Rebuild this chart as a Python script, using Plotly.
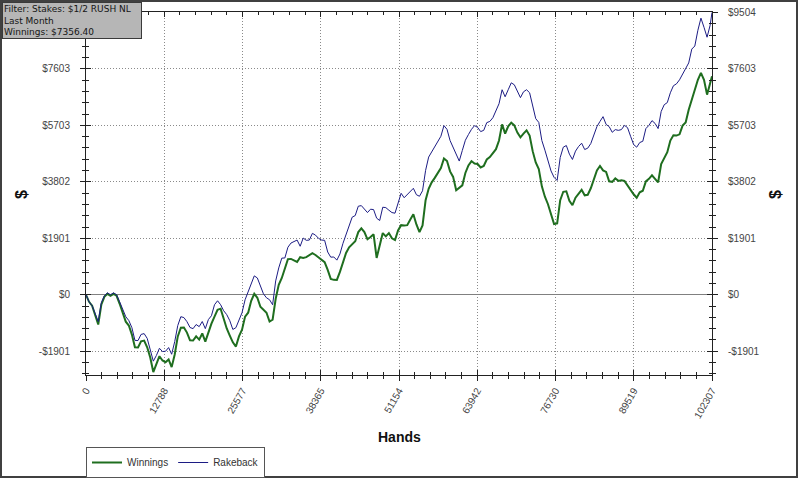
import plotly.graph_objects as go

# ---- data (every 500 hands) ----
hands = [0, 500, 1000, 1500, 2000, 2500, 3000, 3500, 4000, 4500,
         5000, 5500, 6000, 6500, 7000, 7500, 8000, 8500, 9000, 9500,
         10000, 10500, 11000, 11500, 12000, 12500, 13000, 13500, 14000, 14500,
         15000, 15500, 16000, 16500, 17000, 17500, 18000, 18500, 19000, 19500,
         20000, 20500, 21000, 21500, 22000, 22500, 23000, 23500, 24000, 24500,
         25000, 25500, 26000, 26500, 27000, 27500, 28000, 28500, 29000, 29500,
         30000, 30500, 31000, 31500, 32000, 32500, 33000, 33500, 34000, 34500,
         35000, 35500, 36000, 36500, 37000, 37500, 38000, 38500, 39000, 39500,
         40000, 40500, 41000, 41500, 42000, 42500, 43000, 43500, 44000, 44500,
         45000, 45500, 46000, 46500, 47000, 47500, 48000, 48500, 49000, 49500,
         50000, 50500, 51000, 51500, 52000, 52500, 53000, 53500, 54000, 54500,
         55000, 55500, 56000, 56500, 57000, 57500, 58000, 58500, 59000, 59500,
         60000, 60500, 61000, 61500, 62000, 62500, 63000, 63500, 64000, 64500,
         65000, 65500, 66000, 66500, 67000, 67500, 68000, 68500, 69000, 69500,
         70000, 70500, 71000, 71500, 72000, 72500, 73000, 73500, 74000, 74500,
         75000, 75500, 76000, 76500, 77000, 77500, 78000, 78500, 79000, 79500,
         80000, 80500, 81000, 81500, 82000, 82500, 83000, 83500, 84000, 84500,
         85000, 85500, 86000, 86500, 87000, 87500, 88000, 88500, 89000, 89500,
         90000, 90500, 91000, 91500, 92000, 92500, 93000, 93500, 94000, 94500,
         95000, 95500, 96000, 96500, 97000, 97500, 98000, 98500, 99000, 99500,
         100000, 100500, 101000, 101500, 102000, 102307]

winnings = [0, -235, -367, -704, -1000, -335, -67, 34, -33, 34,
            -33, -302, -600, -905, -1034, -1340, -1768, -1776, -1567, -1541,
            -1768, -2111, -2601, -2345, -2068, -2211, -2268, -2178, -2435, -2010,
            -1401, -1106, -1101, -1273, -1534, -1541, -1401, -1508, -1301, -1575,
            -1234, -972, -734, -503, -467, -804, -1134, -1374, -1601, -1742,
            -1401, -1173, -734, -603, -200, 34, -100, -402, -500, -603,
            -900, -838, -133, 335, 567, 905, 1201, 1206, 1167, 1106,
            1267, 1240, 1267, 1340, 1401, 1340, 1267, 1173, 1101, 838,
            534, 503, 500, 771, 1067, 1407, 1601, 1709, 1801, 2111,
            2234, 2111, 1868, 1943, 2034, 1240, 1668, 2077, 1968, 2077,
            1901, 1843, 2168, 2345, 2335, 2345, 2535, 2714, 2368, 2111,
            2335, 3183, 3568, 3786, 3935, 4087, 4269, 4590, 4502, 4154,
            3969, 3518, 3602, 3685, 4102, 4355, 4502, 4422, 4402, 4288,
            4336, 4556, 4636, 4791, 4902, 5193, 5736, 5427, 5670, 5796,
            5703, 5461, 5303, 5427, 5536, 5360, 4836, 4456, 4235, 3652,
            3302, 3049, 2735, 2379, 2400, 3183, 3468, 3484, 3168, 3015,
            3268, 3417, 3535, 3350, 3368, 3585, 3902, 4188, 4336, 4188,
            4135, 3819, 3802, 3920, 3835, 3853, 3835, 3685, 3502, 3384,
            3268, 3451, 3502, 3819, 3902, 4020, 3902, 3786, 4402, 4623,
            4802, 5193, 5369, 5360, 5403, 5695, 5803, 6231, 6570, 6868,
            7237, 7471, 7237, 6737, 7170, 7356.40]

rakeback = [0, -235, -367, -670, -900, -268, -33, 67, 0, 67,
            0, -235, -467, -737, -867, -1106, -1534, -1541, -1334, -1307,
            -1467, -1809, -2234, -2044, -1801, -1910, -1901, -1776, -2001, -1575,
            -1034, -737, -767, -905, -1101, -1139, -1001, -1072, -900, -1139,
            -834, -704, -334, -201, -334, -536, -667, -871, -1167, -1106,
            -834, -603, -167, 101, 367, 637, 567, 268, 33, -101,
            -167, -335, 467, 905, 1234, 1240, 1601, 1742, 1801, 1843,
            1634, 1910, 1834, 1843, 2068, 2010, 1901, 1843, 1834, 1441,
            1267, 1273, 1167, 1374, 1734, 2010, 2301, 2613, 2668, 2982,
            3002, 2881, 2768, 2881, 2868, 2580, 2501, 2948, 2935, 2848,
            2768, 2747, 3068, 3417, 3268, 3384, 3469, 3585, 3369, 3317,
            3502, 4188, 4636, 4824, 4969, 5193, 5336, 5695, 5570, 5193,
            4969, 4690, 4502, 4858, 5203, 5394, 5570, 5695, 5636, 5494,
            5536, 5796, 5836, 5963, 6170, 6432, 6903, 6667, 6903, 7136,
            7070, 6834, 6637, 6834, 6903, 6801, 6303, 5930, 5803, 5193,
            4869, 4523, 4169, 3953, 3850, 4623, 4969, 5025, 4736, 4556,
            4836, 4992, 5103, 4891, 4936, 5092, 5370, 5662, 5836, 5997,
            5736, 5662, 5470, 5561, 5536, 5561, 5703, 5628, 5336, 5059,
            4969, 5126, 5169, 5595, 5703, 5863, 5770, 5595, 6170, 6399,
            6470, 6801, 7037, 7102, 7237, 7437, 7604, 7806, 8271, 8375,
            8905, 9313, 9005, 8671, 9071, 9504]

x_ticks = [0, 12788, 25577, 38365, 51154, 63942, 76730, 89519, 102307]
x_ticktext = [str(v) for v in x_ticks]
y_ticks = [-1901, 0, 1901, 3802, 5703, 7603, 9504]
y_ticktext = ["-$1901", "$0", "$1901", "$3802", "$5703", "$7603", "$9504"]

filter_lines = ["Filter: Stakes: $1/2 RUSH NL", "Last Month", "Winnings: $7356.40"]

# ---- figure ----
W, H = 799, 479
ML, MR, MT, MB = 86, 87, 12, 104
PW, PH = W - ML - MR, H - MT - MB
X_RANGE = [0, 102307]
Y_RANGE = [-2700, 9520]
FONT = "Liberation Sans, Arial, sans-serif"


def px_to_paper_x(px):
    return (px - ML) / PW


def px_to_paper_y(py):
    return (H - MB - py) / PH


fig = go.Figure()
fig.add_trace(go.Scatter(x=hands, y=winnings, mode="lines", name="Winnings",
                         line=dict(color="#1f6e1f", width=2), hoverinfo="skip"))
fig.add_trace(go.Scatter(x=hands, y=rakeback, mode="lines", name="Rakeback",
                         line=dict(color="#1c1c84", width=1), hoverinfo="skip"))
# helper empty traces so the overlay axes are drawn
fig.add_trace(go.Scatter(x=[], y=[], xaxis="x", yaxis="y2", showlegend=False, hoverinfo="skip"))
fig.add_trace(go.Scatter(x=[], y=[], xaxis="x2", yaxis="y3", showlegend=False, hoverinfo="skip"))

tickfont = dict(family=FONT, size=10, color="#444")
XMINOR = 12788.375 / 5
YMINOR = 1900.8 / 5
minor_x = dict(ticks="outside", ticklen=3, tickcolor="#222", tick0=0, dtick=XMINOR, showgrid=False)
minor_y = dict(ticks="outside", ticklen=3, tickcolor="#222", tick0=0, dtick=YMINOR, showgrid=False)
left_text = [t if v != 9504 else "" for v, t in zip(y_ticks, y_ticktext)]

fig.update_layout(
    width=W, height=H,
    margin=dict(l=ML, r=MR, t=MT, b=MB, pad=0, autoexpand=False),
    paper_bgcolor="white", plot_bgcolor="white",
    showlegend=True,
    legend=dict(orientation="h", x=0, xanchor="left", y=px_to_paper_y(447), yanchor="top",
                bordercolor="#555", borderwidth=1, bgcolor="white",
                font=dict(family=FONT, size=10, color="#333"),
                itemwidth=30, tracegroupgap=0),
    xaxis=dict(range=X_RANGE, tickmode="array", tickvals=x_ticks, ticktext=x_ticktext,
               ticks="outside", ticklen=5, tickcolor="#222", tickangle=-60, tickfont=tickfont,
               showline=True, linecolor="#222", linewidth=1, mirror=True, automargin=False,
               showgrid=True, gridcolor="#8a8a8a", griddash="1px,2px", gridwidth=1,
               zeroline=False, minor=minor_x, fixedrange=True),
    xaxis2=dict(range=X_RANGE, overlaying="x", anchor="y", tickmode="array", tickvals=x_ticks,
                ticks="inside", ticklen=5, tickcolor="#222", mirror="ticks", automargin=False,
                showticklabels=False, showgrid=False, showline=False, zeroline=False,
                minor=dict(ticks="inside", ticklen=3, tickcolor="#222", tick0=0,
                           dtick=XMINOR, showgrid=False)),
    yaxis=dict(range=Y_RANGE, tickmode="array", tickvals=y_ticks, ticktext=left_text,
               ticks="outside", ticklen=5, tickcolor="#222", tickfont=tickfont,
               ticklabelstandoff=8, automargin=False,
               showline=True, linecolor="#222", linewidth=1, mirror=True,
               showgrid=True, gridcolor="#8a8a8a", griddash="1px,2px", gridwidth=1,
               zeroline=True, zerolinecolor="#808080", zerolinewidth=1,
               minor=minor_y, fixedrange=True),
    yaxis2=dict(range=Y_RANGE, overlaying="y", side="right", anchor="x", tickmode="array",
                tickvals=y_ticks, ticktext=y_ticktext, ticks="outside", ticklen=5,
                tickcolor="#222", tickfont=tickfont, ticklabelstandoff=8, automargin=False,
                showgrid=False, showline=False, zeroline=False, minor=minor_y),
    yaxis3=dict(range=Y_RANGE, overlaying="y", side="left", anchor="x", tickmode="array",
                tickvals=y_ticks, ticks="inside", ticklen=5, tickcolor="#222", mirror="ticks",
                showticklabels=False, showgrid=False, showline=False, zeroline=False,
                automargin=False,
                minor=dict(ticks="inside", ticklen=3, tickcolor="#222", tick0=0,
                           dtick=YMINOR, showgrid=False)),
)

annotations = [
    dict(text="<b>Hands</b>", xref="paper", yref="paper", x=px_to_paper_x(399), y=px_to_paper_y(437),
         xanchor="center", yanchor="middle", showarrow=False,
         font=dict(family=FONT, size=14, color="#111")),
    dict(text="<b>$</b>", xref="paper", yref="paper", x=px_to_paper_x(21), y=px_to_paper_y(195),
         xanchor="center", yanchor="middle", showarrow=False, textangle=-90,
         font=dict(family=FONT, size=16, color="#111")),
    dict(text="<b>$</b>", xref="paper", yref="paper", x=px_to_paper_x(775), y=px_to_paper_y(195),
         xanchor="center", yanchor="middle", showarrow=False, textangle=-90,
         font=dict(family=FONT, size=16, color="#111")),
    dict(text="<br>".join(filter_lines), xref="paper", yref="paper",
         x=px_to_paper_x(2), y=px_to_paper_y(2), xanchor="left", yanchor="top",
         align="left", showarrow=False, width=136,
         bgcolor="#b6b6b6", bordercolor="#3a3a3a", borderwidth=1, borderpad=1,
         font=dict(family="DejaVu Sans, sans-serif", size=9, color="#151515")),
]
fig.update_layout(annotations=annotations)

# outer frame
fig.add_shape(type="rect", xref="paper", yref="paper",
              x0=px_to_paper_x(1), x1=px_to_paper_x(797),
              y0=px_to_paper_y(477), y1=px_to_paper_y(1),
              line=dict(color="#404040", width=2), fillcolor="rgba(0,0,0,0)", layer="above")

fig.write_html("out.html")
